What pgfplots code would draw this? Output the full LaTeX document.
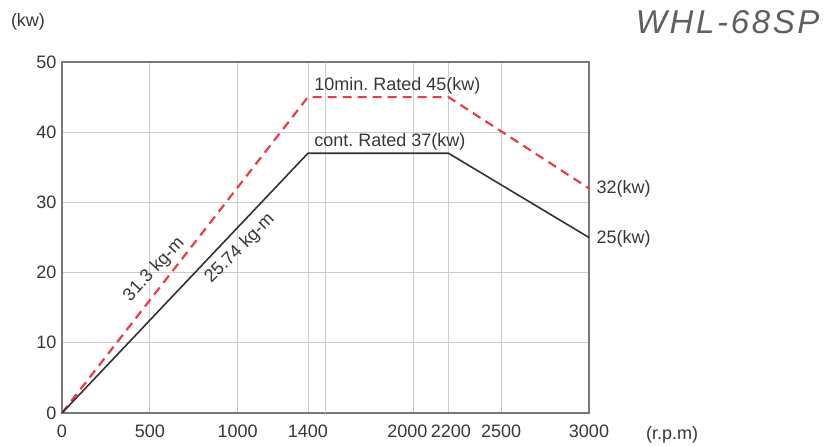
\documentclass[border=0pt]{standalone}
\usepackage{fontspec}
\setmainfont{Liberation Sans}
\usepackage{pgfplots}
\pgfplotsset{compat=1.18}
\frenchspacing
\definecolor{txt}{RGB}{55,55,55}
\definecolor{redd}{RGB}{232,62,72}
\definecolor{blk}{RGB}{50,50,50}
\definecolor{gridc}{RGB}{205,205,205}
\definecolor{framec}{RGB}{120,120,120}
\begin{document}
\begin{tikzpicture}
\path[use as bounding box] (-62pt,-32pt) rectangle (763pt,413pt);
\begin{axis}[
  at={(0,0)}, anchor=south west,
  scale only axis, width=527pt, height=351pt,
  xmin=0, xmax=3000, ymin=0, ymax=50,
  xtick={0,500,1000,1400,2000,2200,2500,3000},
  xticklabels={0,500,1000,1400,{\hspace*{-12pt}2000},{\hspace*{5pt}2200},2500,3000},
  extra x ticks={1500}, extra x tick labels={},
  extra x tick style={grid=major},
  ytick={0,10,20,30,40,50},
  grid=major,
  major grid style={gridc, line width=0.8pt},
  major tick length=0pt,
  axis line style={framec, line width=1.2pt},
  tick label style={font=\fontsize{18}{20}\selectfont, text=txt},
  /pgf/number format/assume math mode=true,
  /pgf/number format/1000 sep={},
  xticklabel style={yshift=-8pt},
  yticklabel style={xshift=-2pt},
  clip=false,
]
\addplot[redd, line width=2.2pt, dash pattern=on 9pt off 6pt] coordinates {(0,0) (1400,45) (2200,45) (3000,32)};
\addplot[blk, line width=1.6pt] coordinates {(0,0) (1400,37) (2200,37) (3000,25)};
\node[anchor=south west, text=txt, font=\fontsize{18}{20}\selectfont, inner sep=1pt] at (axis cs:1430,45.3) {10min. Rated 45(kw)};
\node[anchor=south west, text=txt, font=\fontsize{18}{20}\selectfont, inner sep=1pt] at (axis cs:1430,37.3) {cont. Rated 37(kw)};
\node[anchor=west, text=txt, font=\fontsize{18}{20}\selectfont, xshift=4pt] at (axis cs:3000,31.9) {32(kw)};
\node[anchor=west, text=txt, font=\fontsize{18}{20}\selectfont, xshift=4pt] at (axis cs:3000,24.8) {25(kw)};
\node[rotate=47, text=txt, font=\fontsize{18}{20}\selectfont] at (axis cs:525,20.4) {31.3 kg-m};
\node[rotate=45, text=txt, font=\fontsize{18}{20}\selectfont] at (axis cs:1013,23.4) {25.74 kg-m};
\node[text=txt, font=\fontsize{18}{20}\selectfont] at (-34pt,391pt) {(kw)};
\node[text=txt, font=\fontsize{18}{20}\selectfont] at (610pt,-22pt) {(r.p.m)};
\node[anchor=east, text={rgb,255:red,95;green,95;blue,95}, font=\fontsize{33}{36}\itshape\addfontfeature{LetterSpace=8}] at (761pt,391pt) {WHL-68SP};
\end{axis}
\end{tikzpicture}
\end{document}
